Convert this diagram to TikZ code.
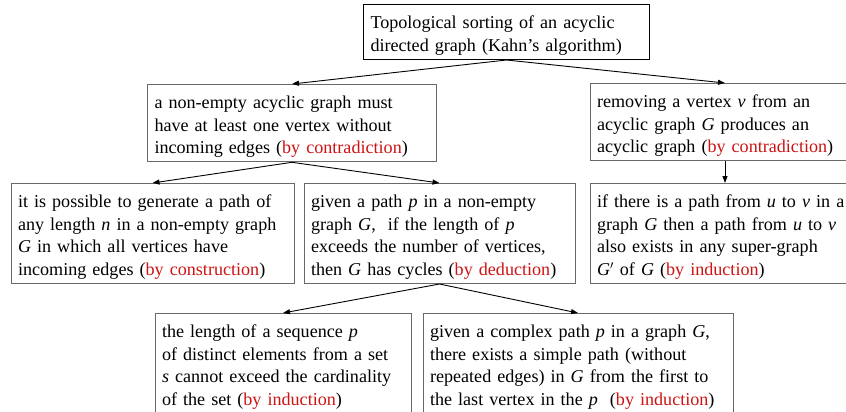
\documentclass[tikz,border=0pt]{standalone}
\usepackage{fontspec}
\setmainfont{Liberation Serif}
\usetikzlibrary{arrows.meta}
\definecolor{proofred}{RGB}{204,20,20}
\definecolor{boxgray}{RGB}{105,105,105}
\tikzset{
	claim/.style={draw=boxgray, line width=1pt, inner xsep=7pt, inner ysep=4pt, align=left, anchor=north, font=\fontsize{18.1}{22.7}\selectfont, execute at begin node={\rule{0pt}{20pt}}},
	goal/.style={claim, draw=black, line width=1.4pt},
	dep/.style={-{Triangle[length=7pt,width=5pt]}, line width=0.9pt},
}
\newcommand{\how}[1]{(\textcolor{proofred}{#1})}
\begin{document}
\begin{tikzpicture}[x=1pt,y=-1pt]
				\useasboundingbox (0,0) rectangle (846,412);
				% the goal and the two lemmas it rests on
				\node[goal, text width=272pt] (kahn) at (506.5,4) {Topological sorting of an acyclic\\directed graph (Kahn's algorithm)};
				\node[claim, text width=275pt] (source) at (292,84) {a non-empty acyclic graph must\\have at least one vertex without\\incoming edges \how{by contradiction}};
				\node[claim, text width=256pt] (remove) at (725,83) {removing a vertex \textit{v} from an\\acyclic graph \textit{G} produces an\\acyclic graph \how{by contradiction}};
				% second level
				\node[claim, text width=269pt] (walk) at (152.5,183) {it is possible to generate a path of\\any length \textit{n} in a non-empty graph\\\textit{G} in which all vertices have\\incoming edges \how{by construction}};
				\node[claim, text width=257pt] (cycle) at (439.5,183) {given a path \textit{p} in a non-empty\\graph \textit{G}, \ if the length of \textit{p}\\exceeds the number of vertices,\\then \textit{G} has cycles \how{by deduction}};
				\node[claim, text width=256pt] (super) at (725,183) {if there is a path from \textit{u} to \textit{v} in a\\graph \textit{G} then a path from \textit{u} to \textit{v}\\also exists in any super-graph\\\textit{G}$'$ of \textit{G} \how{by induction}};
				% third level
				\node[claim, text width=242pt] (distinct) at (283,313) {the length of a sequence \textit{p}\\of distinct elements from a set\\\textit{s} cannot exceed the cardinality\\of the set \how{by induction}};
				\node[claim, text width=296pt] (simple) at (578,313) {given a complex path \textit{p} in a graph \textit{G},\\there exists a simple path (without\\repeated edges) in \textit{G} from the first to\\the last vertex in the \textit{p} \ \how{by induction}};
				% dependencies
				\draw[dep] (kahn.south) -- (source.north);
				\draw[dep] (kahn.south) -- (remove.north);
				\draw[dep] (source.south) -- (walk.north);
				\draw[dep] (source.south) -- (cycle.north);
				\draw[dep] (remove.south) -- (super.north);
				\draw[dep] (cycle.south) -- (distinct.north);
				\draw[dep] (cycle.south) -- (simple.north);
\end{tikzpicture}
\end{document}
